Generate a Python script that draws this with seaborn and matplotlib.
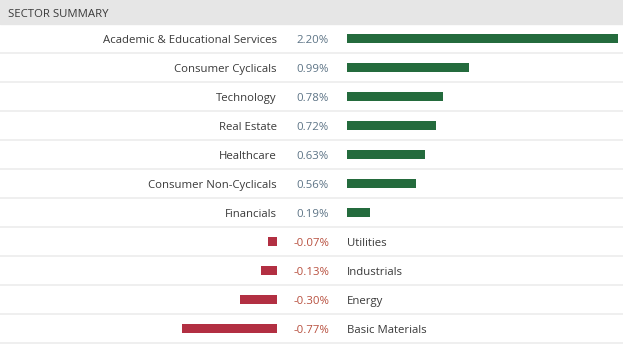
import matplotlib
matplotlib.use("Agg")
import matplotlib.pyplot as plt
import seaborn as sns
import pandas as pd
import numpy as np

sectors = ["Academic & Educational Services", "Consumer Cyclicals", "Technology",
           "Real Estate", "Healthcare", "Consumer Non-Cyclicals", "Financials",
           "Utilities", "Industrials", "Energy", "Basic Materials"]
changes = [2.20, 0.99, 0.78, 0.72, 0.63, 0.56, 0.19, -0.07, -0.13, -0.30, -0.77]
title = "SECTOR SUMMARY"

sns.set_style("white")
plt.rcParams['font.family'] = ['Open Sans', 'DejaVu Sans']

W, H = 623, 344
fig = plt.figure(figsize=(W / 100, H / 100), dpi=100)

GREEN = "#246b3d"
RED = "#b22f42"
TXT = "#3a3a3a"
POSTXT = "#5d7486"
NEGTXT = "#b8503f"

top_px, row_h = 24, 29
n = len(sectors)
bottom_px = top_px + row_h * n
px_per_pct = 123.2

def fy(p):
    return 1 - p / H

def fx(p):
    return p / W

df = pd.DataFrame({"sector": sectors, "change": changes})
df["pos"] = df["change"].clip(lower=0)
df["neg"] = df["change"].clip(upper=0)

# header band
fig.patches.append(plt.Rectangle((0, fy(top_px)), 1, top_px / H, transform=fig.transFigure,
                                 color="#e6e6e6", zorder=0))
fig.text(fx(8), fy(13), title, ha="left", va="center_baseline", fontsize=8.2, color=TXT)

ax_h = (bottom_px - top_px) / H
bar_w = 8.5 / row_h
# positive bars axis
pos_left = 347
ax_p = fig.add_axes([fx(pos_left), fy(bottom_px), fx(W - pos_left), ax_h])
sns.barplot(data=df, y="sector", x="pos", ax=ax_p, color=GREEN, saturation=1,
            width=bar_w, orient="h", linewidth=0)
ax_p.set_xlim(0, (W - pos_left) / px_per_pct)

# negative bars axis
neg_right = 277
ax_n = fig.add_axes([0, fy(bottom_px), fx(neg_right), ax_h])
sns.barplot(data=df, y="sector", x="neg", ax=ax_n, color=RED, saturation=1,
            width=bar_w, orient="h", linewidth=0)
ax_n.set_xlim(-neg_right / px_per_pct, 0)

for ax in (ax_p, ax_n):
    ax.set_ylim(n - 0.5, -0.5)
    ax.axis("off")
    ax.patch.set_alpha(0)

# separators
for i in range(n):
    y = fy(top_px + row_h * (i + 1))
    fig.add_artist(plt.Line2D([0, 1], [y, y], transform=fig.transFigure,
                              color="#ececec", lw=1.2))

for i, (s, v) in enumerate(zip(sectors, changes)):
    yc = fy(top_px + row_h * (i + 0.5) + 0.5)
    if v >= 0:
        fig.text(fx(277), yc, s, ha="right", va="center_baseline", fontsize=8.2, color=TXT)
        fig.text(fx(296), yc, f"{v:.2f}%", ha="left", va="center_baseline", fontsize=8.2, color=POSTXT)
    else:
        fig.text(fx(294), yc, f"{v:.2f}%", ha="left", va="center_baseline", fontsize=8.2, color=NEGTXT)
        fig.text(fx(347), yc, s, ha="left", va="center_baseline", fontsize=8.2, color=TXT)

fig.savefig("out.png", dpi=100)
